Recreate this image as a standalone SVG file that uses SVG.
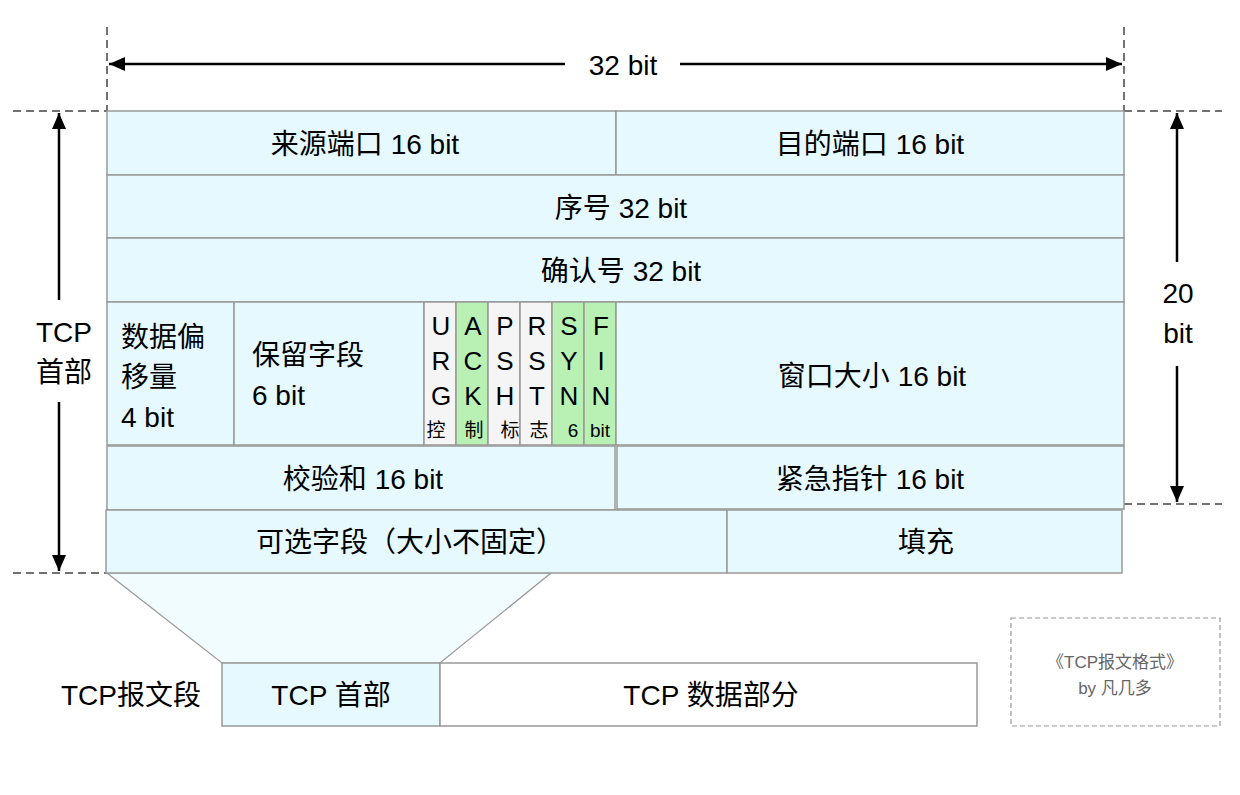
<svg xmlns="http://www.w3.org/2000/svg" width="1240" height="795" viewBox="0 0 1240 795">
<style>
.c{fill:#e6f9ff;stroke:#999;stroke-width:1.5}
.g{fill:#b8f1b3;stroke:#999;stroke-width:1.5}
.w{fill:#f5f5f5;stroke:#999;stroke-width:1.5}
text{font-family:"Liberation Sans","Noto Sans CJK SC",sans-serif;fill:#000}
.t{font-size:28px;text-anchor:middle}
.l{font-size:28px}
.f{font-size:26px;text-anchor:middle}
.s{font-size:19px;text-anchor:middle}
.sig{font-size:17px;text-anchor:middle;fill:#666}
.d{stroke:#444;stroke-width:1.5;stroke-dasharray:8 5;fill:none}
.a{stroke:#000;stroke-width:2.5;fill:none}
</style>
<defs>
<marker id="ah2" viewBox="0 0 16 14" refX="16" refY="7" markerWidth="16" markerHeight="14" markerUnits="userSpaceOnUse" orient="auto-start-reverse">
<path d="M0,0 L16,7 L0,14 z" fill="#000"/>
</marker>
</defs>

<g id="connectors">
<line class="d" x1="107" y1="27" x2="107" y2="111"/>
<line class="d" x1="1124" y1="27" x2="1124" y2="111"/>
<line class="d" x1="13" y1="111" x2="107" y2="111"/>
<line class="d" x1="1124" y1="111" x2="1222" y2="111"/>
<line class="d" x1="13" y1="573" x2="107" y2="573"/>
<line class="d" x1="1124" y1="504" x2="1222" y2="504"/>
<line class="a" x1="565" y1="64" x2="109" y2="64" marker-end="url(#ah2)"/>
<line class="a" x1="680" y1="64" x2="1122" y2="64" marker-end="url(#ah2)"/>
<line class="a" x1="59" y1="300" x2="59" y2="113" marker-end="url(#ah2)"/>
<line class="a" x1="59" y1="402" x2="59" y2="571" marker-end="url(#ah2)"/>
<line class="a" x1="1177" y1="262" x2="1177" y2="113" marker-end="url(#ah2)"/>
<line class="a" x1="1177" y1="366" x2="1177" y2="502" marker-end="url(#ah2)"/>
</g>

<g id="dim-top"><text class="t" x="623" y="75">32 bit</text></g>
<g id="dim-left"><text class="t" x="64" y="342">TCP</text><text class="t" x="64" y="382">首部</text></g>
<g id="dim-right"><text class="t" x="1178" y="303">20</text><text class="t" x="1178" y="343">bit</text></g>

<g id="trapezoid"><path d="M107,573 L551,573 L440,663 L222,663 Z" fill="#f0fcff" stroke="#999" stroke-width="1.2"/></g>

<g id="src-port"><rect class="c" x="107" y="111" width="509" height="64"/><text class="t" x="365" y="154">来源端口 16 bit</text></g>
<g id="dst-port"><rect class="c" x="616" y="111" width="508" height="64"/><text class="t" x="870" y="154">目的端口 16 bit</text></g>
<g id="seq"><rect class="c" x="107" y="175" width="1017" height="63"/><text class="t" x="621" y="218">序号 32 bit</text></g>
<g id="ack-num"><rect class="c" x="107" y="238" width="1017" height="64"/><text class="t" x="621" y="281">确认号 32 bit</text></g>
<g id="offset"><rect class="c" x="107" y="302" width="127" height="143"/><text class="l" x="121" y="347">数据偏</text><text class="l" x="121" y="387">移量</text><text class="l" x="121" y="427">4 bit</text></g>
<g id="reserved"><rect class="c" x="234" y="302" width="190" height="143"/><text class="l" x="252" y="365">保留字段</text><text class="l" x="252" y="405">6 bit</text></g>
<g id="flag-urg"><rect class="w" x="424" y="302" width="32" height="143"/><text class="f" x="441" y="335">U</text><text class="f" x="441" y="370">R</text><text class="f" x="441" y="405">G</text><text class="s" x="436" y="437">控</text></g>
<g id="flag-ack"><rect class="g" x="456" y="302" width="32" height="143"/><text class="f" x="473" y="335">A</text><text class="f" x="473" y="370">C</text><text class="f" x="473" y="405">K</text><text class="s" x="474" y="437">制</text></g>
<g id="flag-psh"><rect class="w" x="488" y="302" width="32" height="143"/><text class="f" x="505" y="335">P</text><text class="f" x="505" y="370">S</text><text class="f" x="505" y="405">H</text><text class="s" x="510" y="437">标</text></g>
<g id="flag-rst"><rect class="w" x="520" y="302" width="32" height="143"/><text class="f" x="537" y="335">R</text><text class="f" x="537" y="370">S</text><text class="f" x="537" y="405">T</text><text class="s" x="539" y="437">志</text></g>
<g id="flag-syn"><rect class="g" x="552" y="302" width="32" height="143"/><text class="f" x="569" y="335">S</text><text class="f" x="569" y="370">Y</text><text class="f" x="569" y="405">N</text><text class="s" x="573" y="437">6</text></g>
<g id="flag-fin"><rect class="g" x="584" y="302" width="32" height="143"/><text class="f" x="601" y="335">F</text><text class="f" x="601" y="370">I</text><text class="f" x="601" y="405">N</text><text class="s" x="600" y="437">bit</text></g>
<g id="window"><rect class="c" x="616" y="302" width="508" height="143"/><text class="t" x="872" y="386">窗口大小 16 bit</text></g>
<g id="checksum"><rect class="c" x="107" y="446" width="508" height="64"/><text class="t" x="363" y="489">校验和 16 bit</text></g>
<g id="urgent"><rect class="c" x="617" y="446" width="507" height="63"/><text class="t" x="870" y="489">紧急指针 16 bit</text></g>
<g id="options"><rect class="c" x="106" y="510" width="621" height="63"/><text class="t" x="410" y="552">可选字段（大小不固定）</text></g>
<g id="padding"><rect class="c" x="727" y="510" width="395" height="63"/><text class="t" x="926" y="552">填充</text></g>

<g id="segment-label"><text class="t" x="131" y="705">TCP报文段</text></g>
<g id="seg-header"><rect class="c" x="222" y="663" width="218" height="63"/><text class="t" x="331" y="705">TCP 首部</text></g>
<g id="seg-data"><rect x="440" y="663" width="537" height="63" fill="#fff" stroke="#999" stroke-width="1.5"/><text class="t" x="711" y="705">TCP 数据部分</text></g>

<g id="signature"><rect x="1011" y="618" width="209" height="108" fill="none" stroke="#999" stroke-width="1.2" stroke-dasharray="5 3"/><text class="sig" x="1115" y="668">《TCP报文格式》</text><text class="sig" x="1115" y="694">by 凡几多</text></g>
</svg>
